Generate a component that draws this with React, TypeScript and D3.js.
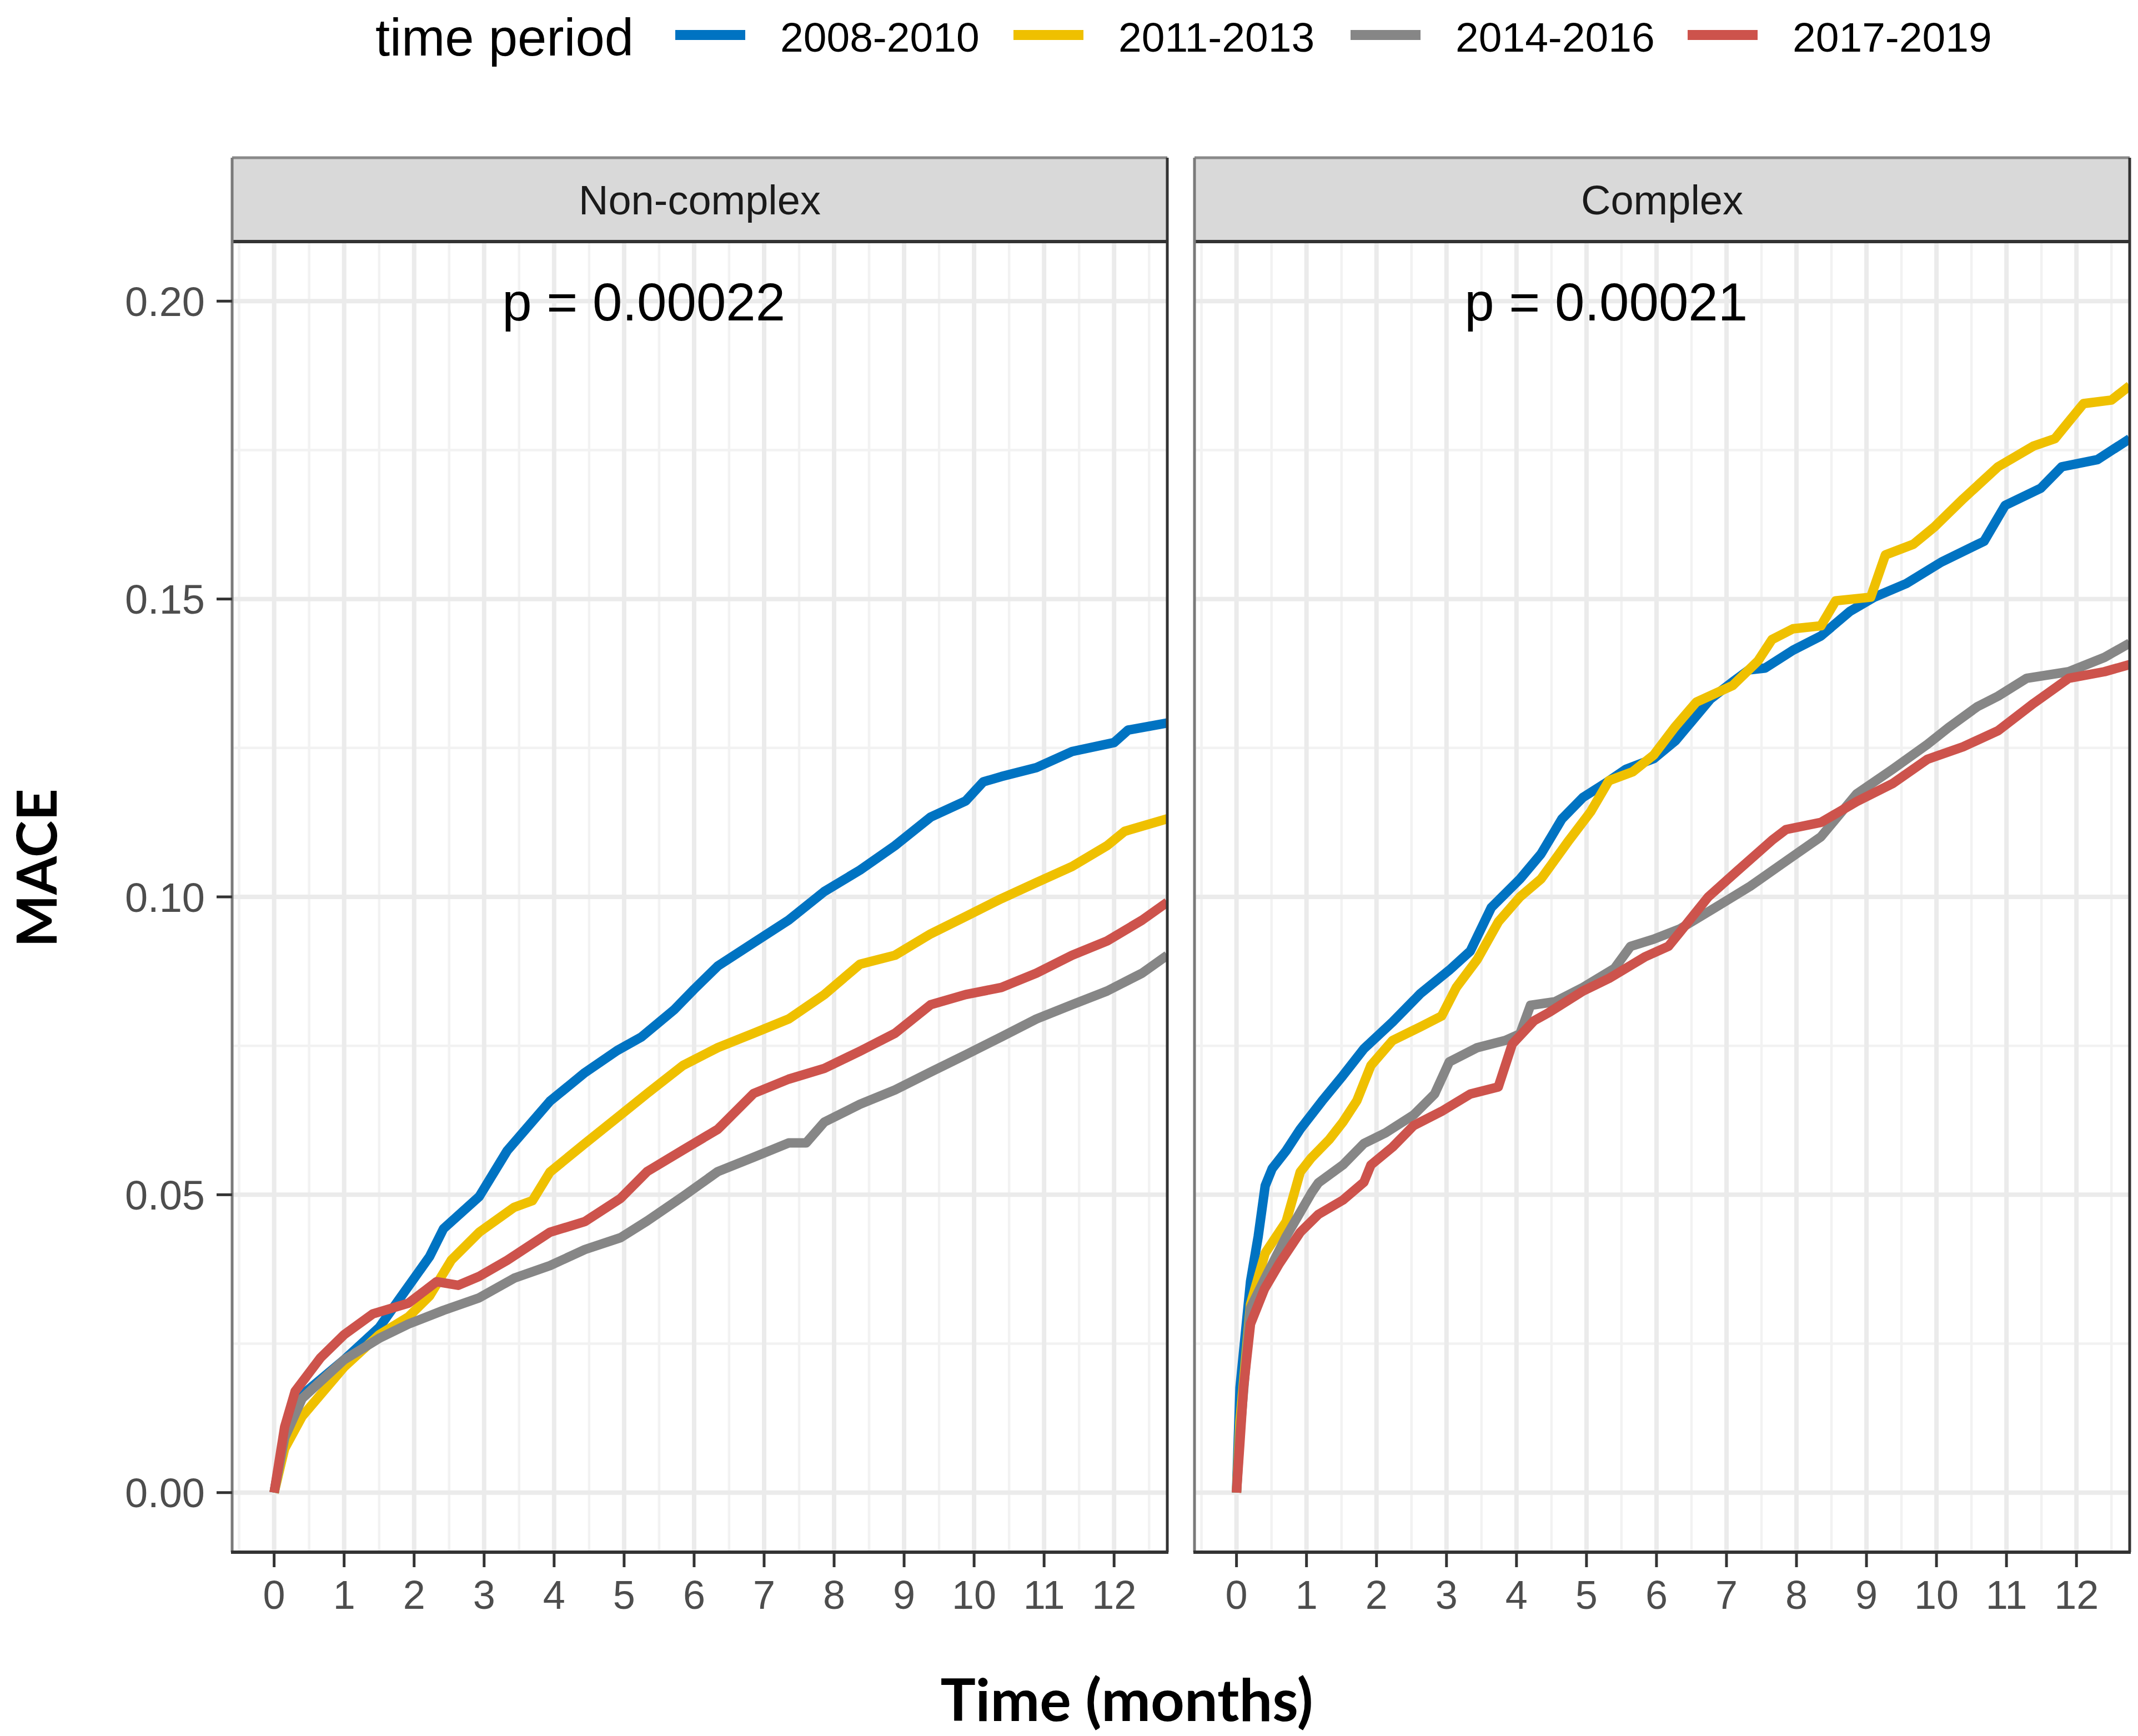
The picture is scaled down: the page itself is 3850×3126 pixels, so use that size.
import React from "react";
import * as d3 from "d3";

// ---- data (time in months, cumulative MACE incidence) ----
const periods = ["2008-2010", "2011-2013", "2014-2016", "2017-2019"];
const periodColors = ["#0073C2", "#EFC000", "#868686", "#CD534C"];
const facetNames = ["Non-complex", "Complex"];
const pValues = ["p = 0.00022", "p = 0.00021"];
const xTicks = [0, 1, 2, 3, 4, 5, 6, 7, 8, 9, 10, 11, 12];
const yTicks = [0, 0.05, 0.1, 0.15, 0.2];
const yTickLabels = ["0.00", "0.05", "0.10", "0.15", "0.20"];

const nc2008: [number, number][] = [
  [0, 0], [0.15, 0.0098], [0.4, 0.0164], [1.0, 0.0223], [1.5, 0.0277], [1.82, 0.033], [2.22, 0.0396],
  [2.42, 0.0443], [2.93, 0.0497], [3.33, 0.0574], [3.94, 0.0657], [4.44, 0.0705], [4.9, 0.0742],
  [5.25, 0.0765], [5.71, 0.081], [6.0, 0.0845], [6.34, 0.0884], [6.85, 0.0923], [7.35, 0.0961],
  [7.86, 0.1009], [8.37, 0.1045], [8.87, 0.1086], [9.38, 0.1134], [9.88, 0.1161], [10.13, 0.1193],
  [10.39, 0.1202], [10.89, 0.1217], [11.4, 0.1244], [12.0, 0.1259], [12.2, 0.128], [12.76, 0.1292],
];
const nc2011: [number, number][] = [
  [0, 0], [0.15, 0.0074], [0.4, 0.0128], [1.0, 0.0211], [1.5, 0.0265], [1.92, 0.0295], [2.22, 0.033],
  [2.53, 0.039], [2.93, 0.0437], [3.43, 0.0479], [3.69, 0.049], [3.94, 0.0538], [4.44, 0.0586],
  [4.95, 0.0634], [5.33, 0.067], [5.84, 0.0717], [6.34, 0.0747], [6.85, 0.0771], [7.35, 0.0795],
  [7.86, 0.0836], [8.37, 0.0887], [8.87, 0.0902], [9.38, 0.0938], [9.88, 0.0967], [10.39, 0.0997],
  [10.89, 0.1024], [11.4, 0.1051], [11.9, 0.1086], [12.15, 0.111], [12.76, 0.1131],
];
const nc2014: [number, number][] = [
  [0, 0], [0.15, 0.0092], [0.4, 0.0158], [1.0, 0.0223], [1.5, 0.0259], [1.92, 0.0283], [2.42, 0.0306],
  [2.93, 0.0327], [3.43, 0.036], [3.94, 0.0381], [4.44, 0.0408], [4.95, 0.0428], [5.33, 0.0456],
  [5.84, 0.0497], [6.34, 0.0539], [6.85, 0.0563], [7.35, 0.0587], [7.6, 0.0587], [7.86, 0.0622],
  [8.37, 0.0652], [8.87, 0.0676], [9.38, 0.0706], [9.88, 0.0735], [10.39, 0.0765], [10.89, 0.0795],
  [11.4, 0.0819], [11.9, 0.0842], [12.4, 0.0872], [12.76, 0.0902],
];
const nc2017: [number, number][] = [
  [0, 0], [0.15, 0.011], [0.3, 0.017], [0.66, 0.0226], [1.0, 0.0265], [1.41, 0.03], [1.92, 0.0318],
  [2.32, 0.0354], [2.63, 0.0348], [2.93, 0.0363], [3.33, 0.039], [3.94, 0.0437], [4.44, 0.0455],
  [4.95, 0.0494], [5.33, 0.0539], [5.84, 0.0575], [6.34, 0.061], [6.85, 0.067], [7.35, 0.0694],
  [7.86, 0.0712], [8.37, 0.0741], [8.87, 0.0771], [9.38, 0.0819], [9.88, 0.0836], [10.39, 0.0848],
  [10.89, 0.0872], [11.4, 0.0902], [11.9, 0.0926], [12.4, 0.0961], [12.76, 0.0991],
];

const cx2008: [number, number][] = [
  [0, 0], [0.05, 0.0176], [0.2, 0.0354], [0.31, 0.043], [0.41, 0.0515], [0.51, 0.0544], [0.71, 0.0574],
  [0.91, 0.061], [1.22, 0.0657], [1.52, 0.07], [1.82, 0.0745], [2.23, 0.079], [2.63, 0.0838],
  [3.04, 0.0877], [3.34, 0.0909], [3.64, 0.0982], [4.05, 0.103], [4.35, 0.1072], [4.65, 0.1131],
  [4.95, 0.1167], [5.26, 0.119], [5.56, 0.1214], [5.96, 0.1232], [6.27, 0.1262], [6.77, 0.1332],
  [7.09, 0.1361], [7.32, 0.1381], [7.55, 0.1384], [7.95, 0.1414], [8.35, 0.1438], [8.76, 0.1479],
  [9.11, 0.1503], [9.57, 0.1526], [10.07, 0.1562], [10.68, 0.1597], [10.98, 0.1657], [11.49, 0.1686],
  [11.79, 0.1722], [12.3, 0.1734], [12.76, 0.1769],
];
const cx2011: [number, number][] = [
  [0, 0], [0.05, 0.012], [0.2, 0.0316], [0.41, 0.0402], [0.71, 0.0455], [0.91, 0.0538], [1.07, 0.0562],
  [1.32, 0.0592], [1.52, 0.0622], [1.72, 0.0658], [1.92, 0.0717], [2.23, 0.0759], [2.63, 0.0782],
  [2.93, 0.08], [3.14, 0.0848], [3.44, 0.0895], [3.74, 0.0958], [4.05, 0.1], [4.35, 0.103],
  [4.75, 0.1095], [5.06, 0.1143], [5.32, 0.1195], [5.66, 0.121], [5.96, 0.1238], [6.27, 0.1286],
  [6.57, 0.1327], [7.09, 0.1355], [7.45, 0.1396], [7.65, 0.1432], [7.95, 0.145], [8.35, 0.1455],
  [8.56, 0.1497], [9.06, 0.1503], [9.27, 0.1574], [9.67, 0.1592], [9.97, 0.1621], [10.38, 0.1668],
  [10.88, 0.1722], [11.39, 0.1757], [11.69, 0.1769], [12.1, 0.1828], [12.5, 0.1834], [12.76, 0.1858],
];
const cx2014: [number, number][] = [
  [0, 0], [0.05, 0.01], [0.2, 0.031], [0.4, 0.0358], [0.71, 0.043], [1.07, 0.0503], [1.17, 0.052],
  [1.52, 0.055], [1.82, 0.0586], [2.13, 0.0604], [2.53, 0.0634], [2.83, 0.0669], [3.04, 0.0723],
  [3.44, 0.0747], [3.84, 0.0759], [4.05, 0.077], [4.2, 0.0818], [4.55, 0.0824], [4.95, 0.0848],
  [5.4, 0.088], [5.63, 0.0917], [5.96, 0.0929], [6.33, 0.0946], [6.84, 0.0982], [7.34, 0.1018],
  [7.85, 0.106], [8.35, 0.1101], [8.86, 0.1173], [9.37, 0.1214], [9.87, 0.1256], [10.17, 0.1284],
  [10.58, 0.1319], [10.88, 0.1337], [11.29, 0.1367], [11.89, 0.1378], [12.4, 0.1402], [12.76, 0.1426],
];
const cx2017: [number, number][] = [
  [0, 0], [0.05, 0.0086], [0.1, 0.0176], [0.2, 0.0283], [0.4, 0.0342], [0.61, 0.0384], [0.91, 0.0437],
  [1.17, 0.0467], [1.52, 0.0491], [1.82, 0.0521], [1.92, 0.055], [2.23, 0.058], [2.53, 0.0616],
  [2.93, 0.064], [3.34, 0.0669], [3.74, 0.0681], [3.94, 0.0753], [4.25, 0.0792], [4.45, 0.0805],
  [4.95, 0.0842], [5.32, 0.0863], [5.83, 0.0899], [6.17, 0.0917], [6.33, 0.094], [6.74, 0.1],
  [7.14, 0.1042], [7.65, 0.1095], [7.85, 0.1113], [8.35, 0.1125], [8.86, 0.116], [9.37, 0.119],
  [9.87, 0.1231], [10.38, 0.1252], [10.88, 0.1279], [11.39, 0.1325], [11.89, 0.1367], [12.4, 0.1378],
  [12.76, 0.139],
];

const facetSeries = [
  [nc2008, nc2011, nc2014, nc2017],
  [cx2008, cx2011, cx2014, cx2017],
];

// ---- layout ----
const W = 3850;
const H = 3126;
const panelX = [
  [418, 2102],
  [2151, 3835],
];
const stripTop = 284;
const plotTop = 435;
const plotBottom = 2795;
const xDomain: [number, number] = [-0.6, 12.76];
const yDomain: [number, number] = [-0.01, 0.21];
const pPos: [number, number] = [5.28, 0.2];

const sans = "'Liberation Sans', Arial, sans-serif";
const bold = "Lato, 'Open Sans', sans-serif";

export default function App() {
  const y = d3.scaleLinear().domain(yDomain).range([plotBottom, plotTop]);
  const xMinor = d3.range(-0.5, 12.76, 1);
  const yMinor = [0.025, 0.075, 0.125, 0.175];

  const legendX = [1216, 1825, 2432, 3039];

  return (
    <svg
      width={W}
      height={H}
      viewBox={`0 0 ${W} ${H}`}
      style={{ position: "absolute", left: 0, top: 0, display: "block", background: "#fff" }}
    >
      <rect x={0} y={0} width={W} height={H} fill="#fff" />
      <defs>
        {panelX.map(([a, b], i) => (
          <clipPath id={`clip${i}`} key={i}>
            <rect x={a} y={plotTop} width={b - a} height={plotBottom - plotTop} />
          </clipPath>
        ))}
      </defs>

      {/* legend */}
      <text x={676} y={100} fontFamily={sans} fontSize={94} fill="#000">
        time period
      </text>
      {periods.map((p, i) => (
        <g key={p}>
          <line x1={legendX[i]} x2={legendX[i] + 126} y1={63} y2={63} stroke={periodColors[i]} strokeWidth={18} />
          <text x={legendX[i] + 189} y={93} fontFamily={sans} fontSize={75} fill="#000">
            {p}
          </text>
        </g>
      ))}

      {panelX.map(([a, b], pi) => {
        const x = d3.scaleLinear().domain(xDomain).range([a, b]);
        const line = d3
          .line<[number, number]>()
          .x((d) => x(d[0]))
          .y((d) => y(d[1]))
          .curve(d3.curveLinear);
        return (
          <g key={pi}>
            <rect x={a} y={plotTop} width={b - a} height={plotBottom - plotTop} fill="#fff" />
            {/* minor grid */}
            {xMinor.map((t) => (
              <line key={"xm" + t} x1={x(t)} x2={x(t)} y1={plotTop} y2={plotBottom} stroke="#F2F2F2" strokeWidth={4.5} />
            ))}
            {yMinor.map((t) => (
              <line key={"ym" + t} x1={a} x2={b} y1={y(t)} y2={y(t)} stroke="#F2F2F2" strokeWidth={4.5} />
            ))}
            {/* major grid */}
            {xTicks.map((t) => (
              <line key={"xM" + t} x1={x(t)} x2={x(t)} y1={plotTop} y2={plotBottom} stroke="#EBEBEB" strokeWidth={8} />
            ))}
            {yTicks.map((t) => (
              <line key={"yM" + t} x1={a} x2={b} y1={y(t)} y2={y(t)} stroke="#EBEBEB" strokeWidth={8} />
            ))}
            {/* curves */}
            <g clipPath={`url(#clip${pi})`}>
              {facetSeries[pi].map((s, si) => (
                <path
                  key={si}
                  d={line(s) || ""}
                  fill="none"
                  stroke={periodColors[si]}
                  strokeWidth={17}
                  strokeLinejoin="round"
                  strokeLinecap="butt"
                />
              ))}
            </g>
            {/* p value */}
            <text
              x={x(pPos[0])}
              y={y(pPos[1])}
              dy="0.36em"
              textAnchor="middle"
              fontFamily={sans}
              fontSize={96}
              fill="#000"
            >
              {pValues[pi]}
            </text>
            {/* strip */}
            <rect x={a} y={stripTop} width={b - a} height={plotTop - stripTop} fill="#D9D9D9" />
            <line x1={a} x2={b} y1={stripTop} y2={stripTop} stroke="#8A8A8A" strokeWidth={5} />
            <line x1={a} x2={b} y1={plotTop} y2={plotTop} stroke="#333" strokeWidth={6} />
            <line x1={a} x2={a} y1={stripTop} y2={plotBottom} stroke="#7A7A7A" strokeWidth={5} />
            <line x1={b} x2={b} y1={stripTop} y2={plotBottom} stroke="#333" strokeWidth={5} />
            <text
              x={(a + b) / 2}
              y={(stripTop + plotTop) / 2}
              dy="0.36em"
              textAnchor="middle"
              fontFamily={sans}
              fontSize={74}
              fill="#1A1A1A"
            >
              {facetNames[pi]}
            </text>
            {/* x axis line */}
            <line x1={a - 2} x2={b + 2} y1={plotBottom} y2={plotBottom} stroke="#333" strokeWidth={6} />
            {xTicks.map((t) => (
              <g key={"xt" + t}>
                <line x1={x(t)} x2={x(t)} y1={plotBottom} y2={plotBottom + 27} stroke="#333" strokeWidth={5} />
                <text
                  x={x(t)}
                  y={2897}
                  textAnchor="middle"
                  fontFamily={sans}
                  fontSize={72}
                  fill="#4D4D4D"
                >
                  {t}
                </text>
              </g>
            ))}
            {pi === 0 &&
              yTicks.map((t, ti) => (
                <g key={"yt" + t}>
                  <line x1={a - 28} x2={a} y1={y(t)} y2={y(t)} stroke="#333" strokeWidth={5} />
                  <text
                    x={369}
                    y={y(t)}
                    dy="0.36em"
                    textAnchor="end"
                    fontFamily={sans}
                    fontSize={74}
                    fill="#4D4D4D"
                  >
                    {yTickLabels[ti]}
                  </text>
                </g>
              ))}
          </g>
        );
      })}

      {/* axis titles */}
      <text x={2029} y={3099} textAnchor="middle" fontFamily={bold} fontWeight={700} fontSize={106} fill="#000">
        Time (months)
      </text>
      <text
        transform={`translate(102, 1563) rotate(-90)`}
        textAnchor="middle"
        fontFamily={bold}
        fontWeight={700}
        fontSize={100}
        fill="#000"
      >
        MACE
      </text>
    </svg>
  );
}
